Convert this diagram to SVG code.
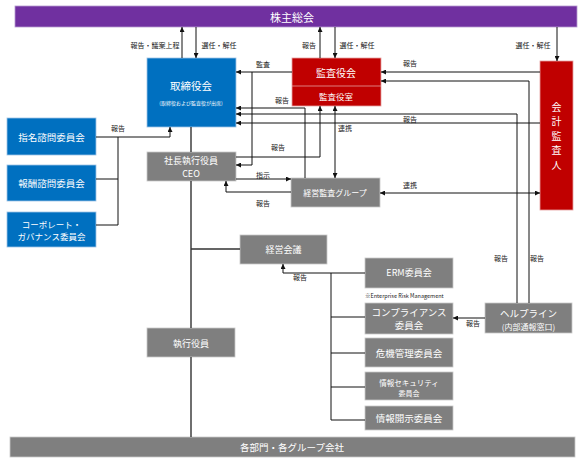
<svg xmlns="http://www.w3.org/2000/svg" width="585" height="463" viewBox="0 0 585 463">
<style>
text{font-family:"Noto Sans CJK JP","Liberation Sans",sans-serif;dominant-baseline:central;text-anchor:middle}
.w{fill:#fff}
.lb{fill:#222;font-size:7px}
.blue{fill:#0070C0;stroke:#9DC3E6;stroke-width:0.8}
.red{fill:#C00000;stroke:#E6A0A0;stroke-width:0.8}
.gray{fill:#7F7F7F;stroke:#C8C8C8;stroke-width:0.8}
.c{fill:none;stroke:#111;stroke-width:1}
.m{fill:none;stroke:#333;stroke-width:1.4}
</style>
<defs>
<marker id="a" viewBox="0 0 6 6" refX="6" refY="3" markerWidth="5" markerHeight="5" markerUnits="userSpaceOnUse" orient="auto-start-reverse"><path d="M0,0L6,3L0,6z" fill="#111"/></marker>
</defs>

<g id="shareholders"><rect x="15" y="6" width="562" height="21" fill="#7030A0" stroke="#B69BD0" stroke-width="0.8"/><text class="w" x="292" y="16.5" font-size="11">株主総会</text></g>

<g id="board"><rect class="blue" x="147" y="58" width="89" height="69"/><text class="w" x="191" y="85" font-size="10.5">取締役会</text><text class="w" x="191" y="102" font-size="5">(取締役および監査役が出席)</text></g>

<g id="auditboard"><rect class="red" x="292" y="58" width="89" height="48"/><line x1="292" y1="86" x2="381" y2="86" stroke="#E6A0A0" stroke-width="0.8"/><text class="w" x="336" y="72" font-size="10">監査役会</text><text class="w" x="336" y="96" font-size="8.5">監査役室</text></g>

<g id="accountant"><rect class="red" x="540" y="61" width="33" height="149"/><text class="w" x="556.5" y="106" font-size="10">会</text><text class="w" x="556.5" y="120.5" font-size="10">計</text><text class="w" x="556.5" y="135" font-size="10">監</text><text class="w" x="556.5" y="149.5" font-size="10">査</text><text class="w" x="556.5" y="164" font-size="10">人</text></g>

<g id="nomination"><rect class="blue" x="7" y="118" width="89" height="37"/><text class="w" x="51.5" y="136.5" font-size="9.5">指名諮問委員会</text></g>
<g id="remuneration"><rect class="blue" x="7" y="165" width="89" height="36"/><text class="w" x="51.5" y="183" font-size="9.5">報酬諮問委員会</text></g>
<g id="governance"><rect class="blue" x="7" y="212" width="89" height="35"/><text class="w" x="51.5" y="223.5" font-size="8.5">コーポレート・</text><text class="w" x="51.5" y="235.5" font-size="8.5">ガバナンス委員会</text></g>

<g id="ceo"><rect class="gray" x="147" y="152" width="89" height="29"/><text class="w" x="191" y="160" font-size="9">社長執行役員</text><text class="w" x="191" y="173" font-size="9" font-family="Liberation Sans,sans-serif">CEO</text></g>

<g id="internalaudit"><rect class="gray" x="291" y="178" width="89" height="29"/><text class="w" x="335" y="192.5" font-size="8">経営監査グループ</text></g>

<g id="mgmtmeeting"><rect class="gray" x="240" y="235" width="87" height="29"/><text class="w" x="283.5" y="249.5" font-size="9">経営会議</text></g>

<g id="officers"><rect class="gray" x="147" y="328" width="88" height="29"/><text class="w" x="191" y="343" font-size="9">執行役員</text></g>

<g id="erm"><rect class="gray" x="365" y="258" width="88" height="30"/><text class="w" x="409" y="272.5" font-size="9">ERM委員会</text><text x="365" y="296" font-size="5.5" fill="#222" style="text-anchor:start" font-family="Liberation Sans,sans-serif">※Enterprise Risk Management</text></g>
<g id="compliance"><rect class="gray" x="365" y="303" width="88" height="31"/><text class="w" x="409" y="312" font-size="9.5">コンプライアンス</text><text class="w" x="409" y="325" font-size="9.5">委員会</text></g>
<g id="crisis"><rect class="gray" x="365" y="338" width="88" height="29"/><text class="w" x="409" y="353" font-size="9.5">危機管理委員会</text></g>
<g id="infosec"><rect class="gray" x="365" y="372" width="88" height="28"/><text class="w" x="409" y="382" font-size="7.5">情報セキュリティ</text><text class="w" x="409" y="393" font-size="7">委員会</text></g>
<g id="disclosure"><rect class="gray" x="365" y="406" width="88" height="24"/><text class="w" x="409" y="418" font-size="9.5">情報開示委員会</text></g>

<g id="helpline"><rect class="gray" x="485" y="303" width="87" height="30"/><text class="w" x="528.5" y="313" font-size="9.5">ヘルプライン</text><text class="w" x="528.5" y="326" font-size="8">(内部通報窓口)</text></g>

<g id="divisions"><rect class="gray" x="10" y="437" width="565" height="20"/><text class="w" x="292" y="447" font-size="9.5">各部門・各グループ会社</text></g>

<g id="connectors">
<path class="c" d="M182,58V27" marker-end="url(#a)"/>
<path class="c" d="M196,27V58" marker-end="url(#a)"/>
<path class="c" d="M320,58V27" marker-end="url(#a)"/>
<path class="c" d="M335,27V58" marker-end="url(#a)"/>
<path class="c" d="M557,27V61" marker-end="url(#a)"/>
<path class="c" d="M292,72H236" marker-end="url(#a)"/>
<path class="c" d="M252,72V165H236" marker-end="url(#a)"/>
<path class="c" d="M540,72H381" marker-end="url(#a)"/>
<path class="c" d="M529,303V81H381" marker-end="url(#a)"/>
<path class="c" d="M517,303V114H236" marker-end="url(#a)"/>
<path class="c" d="M540,123H236" marker-end="url(#a)"/>
<path class="c" d="M305,178V108H236" marker-end="url(#a)"/>
<path class="c" d="M335,106V178" marker-start="url(#a)" marker-end="url(#a)"/>
<path class="c" d="M236,157H320V106" marker-end="url(#a)"/>
<path class="c" d="M236,179H291" marker-end="url(#a)"/>
<path class="c" d="M291,192H226V181" marker-end="url(#a)"/>
<path class="c" d="M380,193H540" marker-start="url(#a)" marker-end="url(#a)"/>
<path class="c" d="M96,137H170V127" marker-end="url(#a)"/>
<path class="c" d="M96,179H118M96,225H118M118,137V225"/>
<path class="m" d="M191,127V152M191,181V328M191,357V437M191,249H240"/>
<path class="c" d="M365,273H283V264" marker-end="url(#a)"/>
<path class="c" d="M331,273V420M331,317H365M331,353H365M331,387H365M331,420H365"/>
<path class="c" d="M485,318H453" marker-end="url(#a)"/>
</g>

<g id="labels">
<text class="lb" x="155" y="45">報告・議案上程</text>
<text class="lb" x="219" y="45">選任・解任</text>
<text class="lb" x="309" y="45">報告</text>
<text class="lb" x="357" y="45">選任・解任</text>
<text class="lb" x="533" y="45">選任・解任</text>
<text class="lb" x="263" y="64">監査</text>
<text class="lb" x="410" y="63">報告</text>
<text class="lb" x="282" y="100">報告</text>
<text class="lb" x="410" y="119">報告</text>
<text class="lb" x="345" y="128">連携</text>
<text class="lb" x="118" y="128">報告</text>
<text class="lb" x="278" y="147">報告</text>
<text class="lb" x="263" y="175">指示</text>
<text class="lb" x="410" y="185">連携</text>
<text class="lb" x="263" y="203">報告</text>
<text class="lb" x="300" y="277">報告</text>
<text class="lb" x="501" y="258">報告</text>
<text class="lb" x="537" y="258">報告</text>
<text class="lb" x="473" y="323">報告</text>
</g>
</svg>
